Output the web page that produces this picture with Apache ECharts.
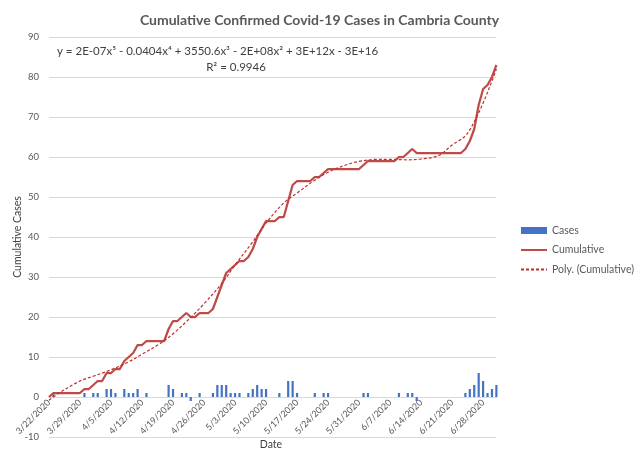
<!DOCTYPE html>
<html>
<head>
<meta charset="utf-8">
<script src="https://cdn.jsdelivr.net/npm/echarts@6/dist/echarts.min.js"></script>
<style>
html,body{margin:0;padding:0;background:#fff;}
#chart{width:639px;height:464px;}
</style>
</head>
<body>
<div id="chart"></div>
<script>
// Categories: daily dates 3/22/2020 .. 7/1/2020
var startDate = [2020, 2, 22];
var dayCount = 102;
var dates = [];
for (var i = 0; i < dayCount; i++) {
  var dt = new Date(startDate[0], startDate[1], startDate[2] + i);
  dates.push((dt.getMonth() + 1) + '/' + dt.getDate() + '/' + dt.getFullYear());
}

// Daily new cases
var cases = [
  0,1,0,0,0,0,0,0,1,0,
  1,1,0,2,2,1,0,2,1,1,
  2,0,1,0,0,0,0,3,2,0,
  1,1,-1,0,1,0,0,1,3,3,
  3,1,1,1,0,1,2,3,2,2,
  0,0,1,0,4,4,1,0,0,0,
  1,0,1,1,0,0,0,0,0,0,
  0,1,1,0,0,0,0,0,0,1,
  0,1,1,-1,0,0,0,0,0,0,
  0,0,0,0,1,2,3,6,4,1,
  2,3
];

// Cumulative cases
var cumulative = [
  0,1,1,1,1,1,1,1,2,2,
  3,4,4,6,6,7,7,9,10,11,
  13,13,14,14,14,14,14,17,19,19,
  20,21,20,20,21,21,21,22,25,28,
  31,32,33,34,34,35,37,40,42,44,
  44,44,45,45,49,53,54,54,54,54,
  55,55,56,57,57,57,57,57,57,57,
  57,58,59,59,59,59,59,59,59,60,
  60,61,62,61,61,61,61,61,61,61,
  61,61,61,61,62,64,67,73,77,78,
  80,83
];

// Poly. (Cumulative) trendline: [day index, value]
var trendDays   = [0, 3, 7, 10, 14, 18, 21, 25, 28, 32, 35, 39, 42, 46, 49, 53, 56, 60, 63, 67, 70, 74, 77, 81, 84, 88, 91, 94, 96, 98, 100, 101];
var trendValues = [-0.8, 1.5, 4.0, 5.2, 6.8, 8.8, 10.7, 13.3, 15.8, 19.9, 23.3, 28.4, 33.0, 38.8, 43.5, 48.5, 51.0, 54.2, 56.2, 58.0, 58.9, 59.4, 59.4, 59.3, 59.5, 60.4, 63.0, 65.3, 68.8, 73.5, 79.0, 82.0];

var yTicks = {min: -10, max: 90, step: 10};

var trendData = trendDays.map(function (d, k) { return [d, trendValues[k]]; });

var GRID_TOP = 37, GRID_BOTTOM = 27, CH = 464;
var plotH = CH - GRID_TOP - GRID_BOTTOM;
// distance from bottom of plot to the zero line
var zeroOffset = plotH * (0 - yTicks.min) / (yTicks.max - yTicks.min);

var FONT = 'Lato, "Open Sans", sans-serif';
var chart = echarts.init(document.getElementById('chart'));
chart.setOption({
  backgroundColor: '#ffffff',
  animation: false,
  textStyle: {fontFamily: FONT},
  title: {
    text: 'Cumulative Confirmed Covid-19 Cases in Cambria County',
    left: 'center',
    top: 8,
    textStyle: {fontFamily: FONT, fontSize: 14, fontWeight: 'bold', color: '#595959'}
  },
  grid: {left: 49, right: 142.6, top: GRID_TOP, bottom: GRID_BOTTOM, containLabel: false, outerBoundsMode: 'none'},
  legend: {
    orient: 'vertical',
    left: 515,
    top: 220,
    itemWidth: 26,
    itemHeight: 7,
    itemGap: 8.5,
    textStyle: {fontFamily: FONT, fontSize: 10.5, color: '#595959'},
    data: [
      {name: 'Cases', icon: 'rect'},
      {name: 'Cumulative', itemStyle: {opacity: 0}},
      {name: 'Poly. (Cumulative)', itemStyle: {opacity: 0}}
    ]
  },
  xAxis: {
    type: 'category',
    data: dates,
    boundaryGap: false,
    offset: -zeroOffset,
    axisLine: {onZero: false, lineStyle: {color: '#d9d9d9', width: 1}},
    axisTick: {show: false},
    splitLine: {show: false},
    axisLabel: {interval: 6, rotate: 45, fontSize: 9, color: '#595959', margin: 4, fontFamily: FONT}
  },
  yAxis: {
    type: 'value',
    min: yTicks.min,
    max: yTicks.max,
    interval: yTicks.step,
    axisLine: {show: false},
    axisTick: {show: false},
    splitLine: {lineStyle: {color: '#d9d9d9', width: 1}},
    axisLabel: {fontSize: 9.5, color: '#595959', margin: 10, fontFamily: FONT}
  },
  graphic: [
    {
      type: 'text', left: 57, top: 45, silent: true,
      style: {text: 'y = 2E-07x\u2075 - 0.0404x\u2074 + 3550.6x\u00b3 - 2E+08x\u00b2 + 3E+12x - 3E+16', fontSize: 11.5, fontFamily: FONT, fill: '#404040'}
    },
    {
      type: 'text', x: 236, y: 61, silent: true,
      style: {text: 'R\u00b2 = 0.9946', fontSize: 11.5, fontFamily: FONT, fill: '#404040', align: 'center'}
    },
    {
      type: 'text', x: 271, y: 439, silent: true,
      style: {text: 'Date', fontSize: 10.5, fontFamily: FONT, fill: '#404040', align: 'center'}
    },
    {
      type: 'text', x: 18, y: 237, rotation: Math.PI / 2, silent: true,
      style: {text: 'Cumulative Cases', fontSize: 10.5, fontFamily: FONT, fill: '#404040', align: 'center', verticalAlign: 'middle'}
    }
  ],
  series: [
    {
      name: 'Cases', type: 'bar', data: cases, barWidth: 2.2,
      itemStyle: {color: '#4472C4'}, z: 1
    },
    {
      name: 'Cumulative', type: 'line', data: cumulative, symbol: 'none',
      lineStyle: {color: '#BE4B48', width: 2.25}, itemStyle: {color: '#BE4B48'}, z: 3
    },
    {
      name: 'Poly. (Cumulative)', type: 'line', data: trendData, symbol: 'none', smooth: 0.35,
      lineStyle: {color: '#C0302B', width: 1.2, type: [3, 2]}, itemStyle: {color: '#C0302B'}, z: 4
    }
  ]
});
</script>
</body>
</html>
